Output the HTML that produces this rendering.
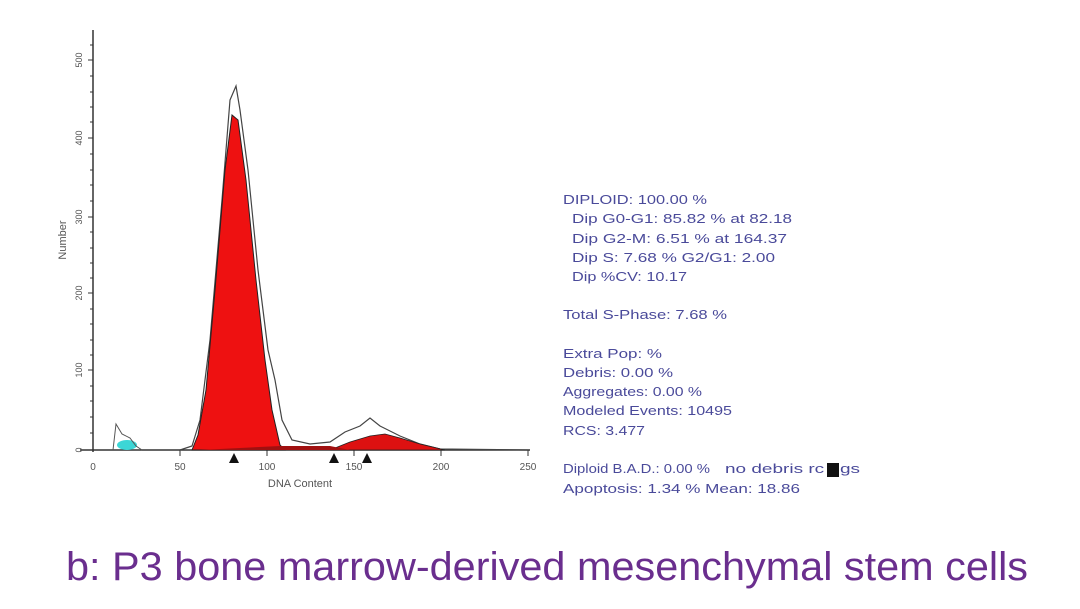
<!DOCTYPE html>
<html><head><style>
body{margin:0;background:#fff;width:1080px;height:604px;overflow:hidden;font-family:"Liberation Sans",sans-serif}
</style></head><body>
<svg width="1080" height="604" xmlns="http://www.w3.org/2000/svg">
<line x1="93" y1="30" x2="93" y2="452" stroke="#333" stroke-width="1.5"/>
<line x1="80" y1="450" x2="530" y2="450" stroke="#333" stroke-width="1.5"/>
<g stroke="#333" stroke-width="1">
<line x1="88" y1="60" x2="93" y2="60"/><line x1="88" y1="138" x2="93" y2="138"/><line x1="88" y1="217" x2="93" y2="217"/><line x1="88" y1="293" x2="93" y2="293"/><line x1="88" y1="370" x2="93" y2="370"/>
<line x1="90" y1="45" x2="93" y2="45"/><line x1="90" y1="76" x2="93" y2="76"/><line x1="90" y1="92" x2="93" y2="92"/><line x1="90" y1="107" x2="93" y2="107"/><line x1="90" y1="122" x2="93" y2="122"/><line x1="90" y1="154" x2="93" y2="154"/><line x1="90" y1="170" x2="93" y2="170"/><line x1="90" y1="185" x2="93" y2="185"/><line x1="90" y1="201" x2="93" y2="201"/><line x1="90" y1="232" x2="93" y2="232"/><line x1="90" y1="248" x2="93" y2="248"/><line x1="90" y1="263" x2="93" y2="263"/><line x1="90" y1="278" x2="93" y2="278"/><line x1="90" y1="309" x2="93" y2="309"/><line x1="90" y1="324" x2="93" y2="324"/><line x1="90" y1="340" x2="93" y2="340"/><line x1="90" y1="355" x2="93" y2="355"/><line x1="90" y1="386" x2="93" y2="386"/><line x1="90" y1="401" x2="93" y2="401"/><line x1="90" y1="417" x2="93" y2="417"/><line x1="90" y1="433" x2="93" y2="433"/>
<line x1="180" y1="450" x2="180" y2="456"/><line x1="267" y1="450" x2="267" y2="456"/><line x1="354" y1="450" x2="354" y2="456"/><line x1="441" y1="450" x2="441" y2="456"/><line x1="528" y1="450" x2="528" y2="456"/>
</g>
<g font-size="10" fill="#555" text-anchor="middle">
<text x="93" y="470">0</text><text x="180" y="470">50</text><text x="267" y="470">100</text><text x="354" y="470">150</text><text x="441" y="470">200</text><text x="528" y="470">250</text>
<text x="300" y="487" font-size="11">DNA Content</text>
</g>
<g font-size="9" fill="#555" text-anchor="middle">
<text transform="translate(82,60) rotate(-90)">500</text>
<text transform="translate(82,138) rotate(-90)">400</text>
<text transform="translate(82,217) rotate(-90)">300</text>
<text transform="translate(82,293) rotate(-90)">200</text>
<text transform="translate(82,370) rotate(-90)">100</text>
<text transform="translate(82,450) rotate(-90)">0</text>
<text transform="translate(66,240) rotate(-90)" font-size="11">Number</text>
</g>
<ellipse cx="127" cy="445" rx="10" ry="5" fill="#3cd6d6"/>
<path d="M113,450 L116,424 L122,434 L130,438 L136,446 L142,450" fill="none" stroke="#555" stroke-width="1"/>
<path d="M180,450 L192,446 L200,420 L210,340 L222,200 L230,100 L236,86 L240,110 L248,170 L258,270 L268,350 L275,380 L282,420 L292,440 L310,444 L330,442 L345,432 L360,426 L370,418 L380,426 L400,436 L420,444 L440,449 L528,450" fill="none" stroke="#444" stroke-width="1.2"/>
<path d="M192,450 L198,435 L206,390 L215,290 L225,170 L232,115 L238,120 L246,180 L256,280 L265,360 L272,410 L280,445 L285,450 Z" fill="#ee1111" stroke="#222" stroke-width="1"/>
<path d="M330,450 L350,442 L370,436 L385,434 L400,438 L420,444 L445,450 Z" fill="#dd1111" stroke="#222" stroke-width="0.8"/>
<path d="M200,450 L280,446 L330,446 L350,450 Z" fill="#a01010"/>
<polygon points="234,453 229,463 239,463" fill="#111"/>
<polygon points="334,453 329,463 339,463" fill="#111"/>
<polygon points="367,453 362,463 372,463" fill="#111"/>
<g font-size="13" fill="#4a4a9a">
<text x="563" y="204" textLength="144" lengthAdjust="spacingAndGlyphs">DIPLOID: 100.00 %</text>
<text x="572" y="223" textLength="220" lengthAdjust="spacingAndGlyphs">Dip G0-G1: 85.82 % at 82.18</text>
<text x="572" y="243" textLength="215" lengthAdjust="spacingAndGlyphs">Dip G2-M: 6.51 % at 164.37</text>
<text x="572" y="262" textLength="203" lengthAdjust="spacingAndGlyphs">Dip S: 7.68 % G2/G1: 2.00</text>
<text x="572" y="281" textLength="115" lengthAdjust="spacingAndGlyphs">Dip %CV: 10.17</text>
<text x="563" y="319" textLength="164" lengthAdjust="spacingAndGlyphs">Total S-Phase: 7.68 %</text>
<text x="563" y="358" textLength="99" lengthAdjust="spacingAndGlyphs">Extra Pop: %</text>
<text x="563" y="377" textLength="110" lengthAdjust="spacingAndGlyphs">Debris: 0.00 %</text>
<text x="563" y="396" textLength="139" lengthAdjust="spacingAndGlyphs">Aggregates: 0.00 %</text>
<text x="563" y="415" textLength="169" lengthAdjust="spacingAndGlyphs">Modeled Events: 10495</text>
<text x="563" y="435" textLength="82" lengthAdjust="spacingAndGlyphs">RCS: 3.477</text>
<text x="563" y="473" textLength="147" lengthAdjust="spacingAndGlyphs">Diploid B.A.D.: 0.00 %</text>
<text x="725" y="473" textLength="135" lengthAdjust="spacingAndGlyphs">no debris rc ggs</text>
<text x="563" y="493" textLength="237" lengthAdjust="spacingAndGlyphs">Apoptosis: 1.34 %   Mean: 18.86</text>
</g>
<rect x="827" y="463" width="12" height="14" fill="#111"/>
<text x="66" y="580" font-size="40" fill="#6a2e8e" textLength="962" lengthAdjust="spacingAndGlyphs">b: P3 bone marrow-derived mesenchymal stem cells</text>
</svg>
</body></html>
